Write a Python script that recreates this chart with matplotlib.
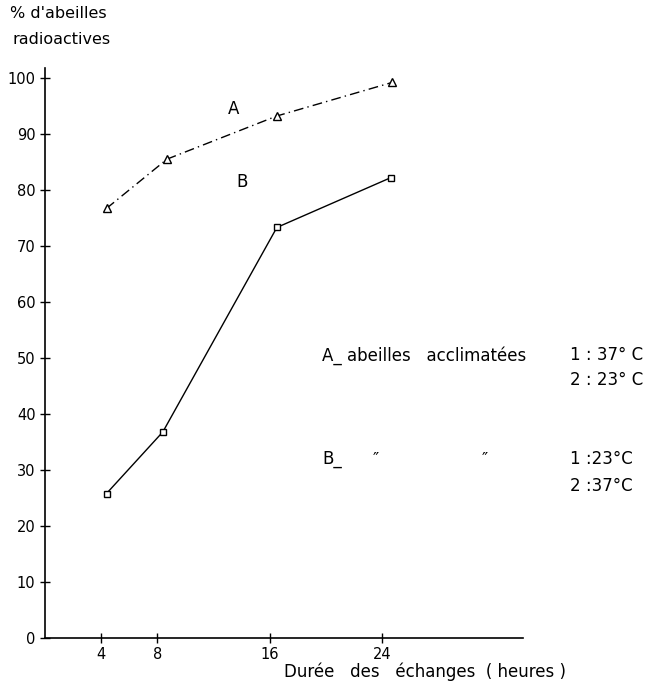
import matplotlib
matplotlib.use("Agg")
import matplotlib.pyplot as plt

# Data
hours_A = [4.4, 8.7, 16.5, 24.7]
pct_A = [76.7, 85.5, 93.2, 99.2]
hours_B = [4.4, 8.4, 16.5, 24.6]
pct_B = [25.8, 36.8, 73.3, 82.2]
xticks = [4, 8, 16, 24]
yticks = [0, 10, 20, 30, 40, 50, 60, 70, 80, 90, 100]

plt.rcParams['font.family'] = ['DejaVu Sans']

fig = plt.figure(figsize=(6.46, 6.92), dpi=100)
ax = fig.add_axes([0.069, 0.078, 0.741, 0.824])

ax.plot(hours_A, pct_A, color='black', linestyle=(0, (7, 3, 1, 3)), linewidth=1.0,
        marker='^', markersize=6, markerfacecolor='white', markeredgecolor='black',
        markeredgewidth=1.0)
ax.plot(hours_B, pct_B, color='black', linestyle='-', linewidth=1.0,
        marker='s', markersize=5, markerfacecolor='white', markeredgecolor='black',
        markeredgewidth=1.0)

ax.set_xlim(0, 34)
ax.set_ylim(0, 101.8)
ax.spines['top'].set_visible(False)
ax.spines['right'].set_visible(False)
ax.spines['left'].set_linewidth(1.2)
ax.spines['bottom'].set_linewidth(1.2)
ax.set_xticks(xticks)
ax.set_xticklabels([str(t) for t in xticks], fontsize=10.5)
ax.set_yticks(yticks)
ax.set_yticklabels([str(t) for t in yticks], fontsize=10.5)
ax.tick_params(direction='inout', length=7, width=1.0, pad=3)

# Curve labels
ax.text(13.4, 94.5, 'A', fontsize=12, ha='center', va='center')
ax.text(14.0, 81.5, 'B', fontsize=12, ha='center', va='center')

# Legend-like text block
fs = 12
ax.text(19.7, 50.5, 'A_ abeilles   acclimatées', fontsize=fs, ha='left', va='center')
ax.text(37.3, 50.5, '1 : 37° C', fontsize=fs, ha='left', va='center')
ax.text(37.3, 46.0, '2 : 23° C', fontsize=fs, ha='left', va='center')
ax.text(19.7, 32.0, 'B_', fontsize=fs, ha='left', va='center')
ax.text(23.5, 31.8, '″', fontsize=fs, ha='center', va='center')
ax.text(31.3, 31.8, '″', fontsize=fs, ha='center', va='center')
ax.text(37.3, 32.0, '1 :23°C', fontsize=fs, ha='left', va='center')
ax.text(37.3, 27.2, '2 :37°C', fontsize=fs, ha='left', va='center')

# Axis labels
fig.text(10/646, 1 - 14/692, "% d'abeilles", fontsize=11.5, ha='left', va='center')
fig.text(12/646, 1 - 40/692, 'radioactives', fontsize=11.5, ha='left', va='center')
fig.text(284/646, 1 - 672/692, 'Durée   des   échanges  ( heures )', fontsize=12,
         ha='left', va='center')

fig.savefig('out.png', dpi=100)
